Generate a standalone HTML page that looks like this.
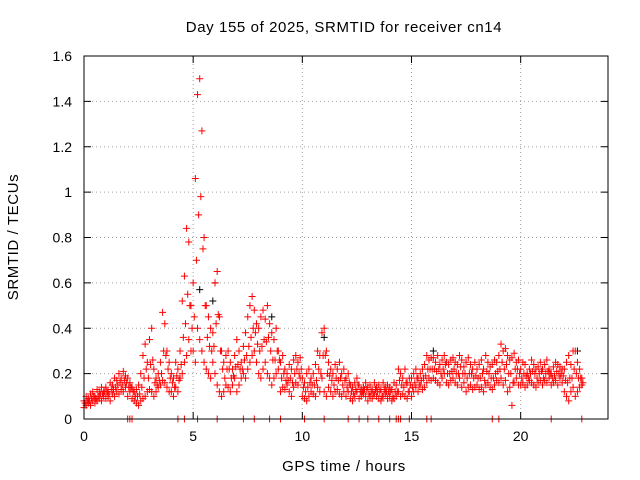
<!DOCTYPE html>
<html><head><meta charset="utf-8"><style>
body{margin:0;background:#fff}
svg{display:block;font-family:"Liberation Sans",sans-serif}
</style></head><body>
<svg id="chart" width="640" height="480">
<text x="344" y="32" font-size="15" letter-spacing="0.6" text-anchor="middle">Day 155 of 2025, SRMTID for receiver cn14</text>
<text x="344" y="471" font-size="15" letter-spacing="0.6" text-anchor="middle">GPS time / hours</text>
<text transform="translate(18,237) rotate(-90)" font-size="15" letter-spacing="0.6" text-anchor="middle">SRMTID / TECUs</text>
<g id="grid"></g><g id="ticks"></g><g id="marks"></g>
<rect x="84" y="56" width="524" height="363" fill="none" stroke="#000"/>
</svg>
<script>
const xTicks=[0,5,10,15,20];
const yTicks=[0,0.2,0.4,0.6,0.8,1,1.2,1.4,1.6];
const yTickLabels=["0","0.2","0.4","0.6","0.8","1","1.2","1.4","1.6"];
const seriesLow=[.05,.06,.07,.06,.08,.07,.08,.09,.08,.10,.09,.10,.08,.11,.10,.12,.11,.13,.12,.14,.10,.12,.09,.08,.07,.06,.08,.09,.10,.12,.13,.12,.10,.12,.14,.15,.17,.16,.14,.12,.12,.10,.14,.12,.18,.20,.25,.28,.35,.30,.30,.25,.40,.35,.30,.25,.22,.20,.18,.25,.20,.15,.12,.10,.12,.15,.14,.12,.15,.18,.12,.15,.18,.20,.18,.22,.25,.28,.30,.25,.20,.18,.22,.25,.20,.18,.15,.18,.20,.22,.12,.14,.13,.15,.12,.10,.14,.16,.15,.18,.10,.09,.08,.10,.12,.11,.10,.14,.12,.18,.12,.10,.14,.12,.10,.12,.13,.11,.10,.12,.10,.12,.09,.08,.10,.12,.09,.10,.11,.10,.08,.10,.09,.11,.10,.09,.08,.10,.11,.09,.10,.08,.09,.10,.12,.10,.11,.10,.09,.12,.10,.12,.14,.12,.15,.13,.14,.16,.18,.17,.18,.17,.16,.15,.18,.20,.16,.15,.17,.18,.16,.15,.18,.14,.16,.12,.14,.15,.13,.14,.15,.13,.14,.12,.15,.16,.14,.13,.15,.17,.16,.18,.15,.17,.12,.14,.06,.16,.18,.15,.15,.16,.14,.15,.17,.16,.15,.14,.16,.17,.15,.17,.16,.18,.15,.16,.17,.15,.18,.16,.12,.10,.08,.12,.14,.10,.12,.14,.15];
const seriesHigh=[.08,.10,.09,.11,.12,.10,.13,.12,.14,.12,.14,.12,.16,.15,.18,.17,.20,.18,.21,.19,.18,.16,.14,.12,.13,.15,.20,.28,.33,.25,.35,.40,.22,.18,.20,.25,.47,.42,.30,.25,.20,.18,.25,.22,.30,.52,.63,.84,.78,.50,.60,1.06,1.43,1.50,1.27,.80,.50,.45,.40,.38,.60,.65,.45,.30,.25,.28,.30,.25,.22,.28,.35,.30,.25,.32,.38,.45,.50,.54,.48,.42,.40,.45,.48,.44,.50,.42,.38,.35,.40,.30,.25,.28,.22,.20,.24,.22,.26,.28,.25,.27,.18,.16,.20,.22,.18,.20,.24,.30,.28,.38,.40,.30,.25,.22,.20,.24,.22,.25,.20,.22,.18,.20,.15,.14,.16,.18,.15,.13,.14,.16,.14,.15,.13,.16,.14,.15,.13,.16,.14,.15,.14,.13,.16,.15,.22,.20,.18,.22,.16,.18,.18,.20,.22,.18,.20,.22,.24,.28,.26,.27,.27,.25,.28,.24,.26,.28,.25,.24,.26,.27,.25,.24,.28,.26,.23,.25,.27,.24,.22,.25,.22,.24,.26,.22,.28,.25,.23,.24,.26,.25,.28,.33,.30,.31,.28,.26,.27,.29,.25,.26,.22,.25,.24,.20,.22,.26,.24,.22,.23,.25,.22,.24,.26,.22,.20,.23,.25,.24,.23,.22,.22,.25,.28,.24,.30,.30,.25,.22,.18];
const seriesMid=[.07,.08,.08,.09,.10,.09,.10,.11,.11,.12,.12,.11,.13,.13,.14,.15,.16,.15,.17,.16,.14,.14,.12,.10,.10,.11,.14,.18,.22,.18,.24,.26,.16,.15,.17,.20,.30,.28,.22,.18,.16,.14,.19,.17,.24,.36,.42,.55,.50,.40,.45,.70,.90,.98,.75,.50,.36,.32,.30,.32,.42,.46,.30,.22,.18,.22,.22,.18,.19,.23,.24,.22,.22,.26,.28,.32,.36,.40,.38,.33,.30,.32,.35,.34,.36,.30,.26,.26,.30,.26,.18,.20,.17,.17,.18,.16,.20,.22,.20,.22,.14,.12,.14,.16,.15,.15,.17,.22,.20,.28,.28,.20,.19,.17,.15,.18,.17,.18,.15,.17,.14,.16,.12,.11,.13,.15,.12,.12,.13,.13,.11,.12,.11,.13,.12,.12,.10,.13,.12,.12,.12,.10,.12,.12,.17,.15,.14,.16,.12,.15,.14,.16,.18,.15,.17,.18,.19,.22,.22,.22,.22,.21,.22,.20,.22,.24,.20,.20,.21,.22,.20,.20,.23,.20,.20,.18,.20,.20,.18,.19,.18,.18,.20,.17,.21,.20,.18,.18,.20,.21,.22,.25,.22,.24,.20,.20,.16,.22,.22,.20,.18,.20,.19,.18,.20,.21,.20,.18,.20,.21,.18,.20,.21,.20,.18,.19,.21,.20,.20,.19,.17,.16,.18,.18,.22,.20,.18,.18,.16];
const zeroTimes=[2.0,2.1,2.2,4.3,4.6,5.2,6.1,7.3,7.8,8.5,9.0,10.1,11.0,12.1,12.6,13.0,13.5,14.0,14.3,14.4,14.5,14.9,15.7,15.9,18.7,19.0,21.4,22.8];
const blackTimes=[5.3,5.9,6.0,8.6,11.0,16.0,22.6];
const blackValues=[0.57,0.52,0.60,0.45,0.36,0.30,0.30];
const X=h=>84+h*(524/24), Y=v=>419-v*(363/1.6);
const NS="http://www.w3.org/2000/svg";
const grid=document.getElementById('grid'),ticks=document.getElementById('ticks'),marks=document.getElementById('marks');
function mk(tag,a,p){const e=document.createElementNS(NS,tag);for(const k in a)e.setAttribute(k,a[k]);p.appendChild(e);return e;}
xTicks.forEach(t=>{const x=X(t);
 if(t>0){const g=mk('line',{x1:x,x2:x,y1:56,y2:419,stroke:'#a0a0a0','stroke-dasharray':'1,3'},grid);
 
 }
 mk('line',{x1:x,x2:x,y1:419,y2:412,stroke:'#000'},ticks);mk('line',{x1:x,x2:x,y1:56,y2:63,stroke:'#000'},ticks);
 const l=mk('text',{x:x,y:441,'font-size':14,'text-anchor':'middle'},ticks);l.textContent=t;
 
 });
yTicks.forEach((t,i)=>{const y=Y(t);
 if(t>0&&t<1.6){const g=mk('line',{x1:84,x2:608,y1:y,y2:y,stroke:'#a0a0a0','stroke-dasharray':'1,3'},grid);
 
 }
 mk('line',{x1:84,x2:91,y1:y,y2:y,stroke:'#000'},ticks);mk('line',{x1:608,x2:601,y1:y,y2:y,stroke:'#000'},ticks);
 const l=mk('text',{x:72,y:y+5,'font-size':14,'text-anchor':'end'},ticks);l.textContent=yTickLabels[i];
 
 });
function plus(h,v,c,name){const x=X(h),y=Y(v);
 const p=mk('path',{d:`M${x-3.5},${y}H${x+3.5}M${x},${y-3.5}V${y+3.5}`,stroke:c,'stroke-width':1,fill:'none'},marks);
 
 }
blackTimes.forEach((t,i)=>plus(t,blackValues[i],'#000','black-point'));
seriesLow.forEach((v,i)=>plus(i*0.1,v,'#f00','red-point-low'));
seriesMid.forEach((v,i)=>plus(i*0.1+0.05,v,'#f00','red-point-mid'));
seriesHigh.forEach((v,i)=>plus(i*0.1,v,'#f00','red-point-high'));
zeroTimes.forEach(t=>plus(t,0,'#f00','red-point-zero'));
</script>
</body></html>
